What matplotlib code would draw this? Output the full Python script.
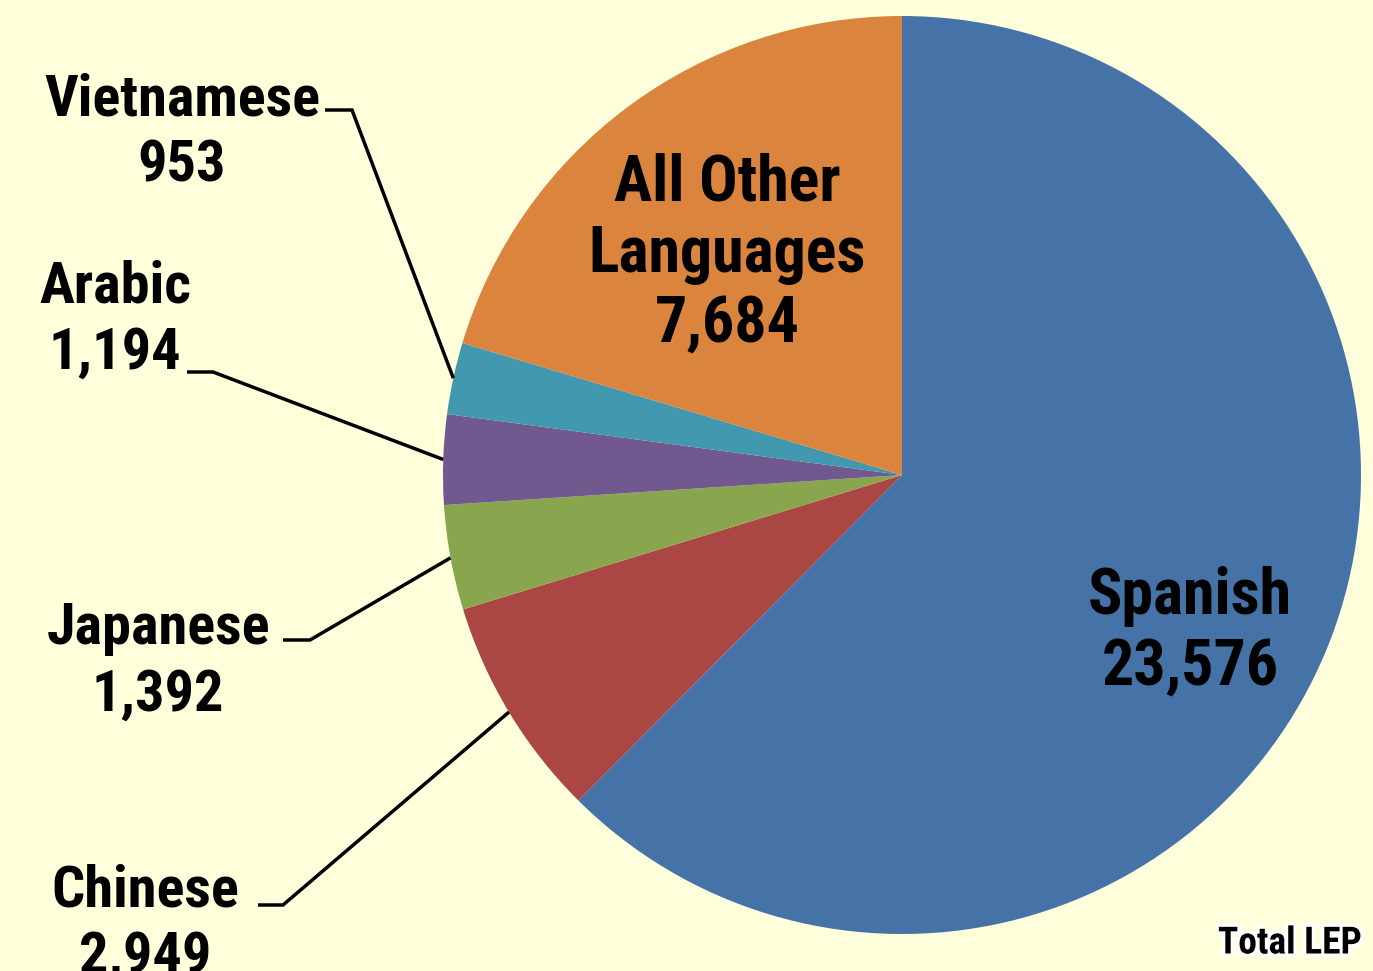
import numpy as np
import matplotlib.pyplot as plt
import matplotlib.patheffects as pe

languages = ['Spanish', 'Chinese', 'Japanese', 'Arabic', 'Vietnamese', 'All Other\nLanguages']
counts = [23576, 2949, 1392, 1194, 953, 7684]
colors = ['#4572A7', '#AA4643', '#89A54E', '#71588F', '#4198AF', '#DB843D']

BG = '#FFFFDC'
W, H = 1373, 971
CX, CY, R = 902, H - 475, 459

plt.rcParams['font.family'] = ['Roboto Condensed', 'DejaVu Sans']

fig = plt.figure(figsize=(W / 100, H / 100), dpi=100, facecolor=BG)
ax = fig.add_axes([0, 0, 1, 1])
ax.axis('off')

ax.pie(counts, colors=colors, startangle=90, counterclock=False,
       center=(CX, CY), radius=R, wedgeprops=dict(linewidth=0))
ax.set_xlim(0, W)
ax.set_ylim(0, H)
ax.set_aspect('equal')

# mid angle of each wedge, clockwise from top
total = sum(counts)
cum = np.cumsum([0] + counts)
mids = [90 - 360 * (cum[i] + cum[i + 1]) / 2 / total for i in range(len(counts))]

text_kw = dict(fontweight='bold', ha='center', va='center',
               multialignment='center', color='black')

# inside labels
ax.text(1190, H - 632, f'{languages[0]}\n{counts[0]:,}', fontsize=46, linespacing=1.22, **text_kw)
ax.text(727, H - 254, f'{languages[5]}\n{counts[5]:,}', fontsize=46, linespacing=1.2, **text_kw)

# outside labels with leader lines: (label centre, elbow start, elbow end)
outside = {
    1: ((145, 924), (258, 905), (283, 905)),
    2: ((158, 662), (283, 640), (310, 640)),
    3: ((115, 320), (187, 372), (213, 372)),
    4: ((182, 133), (325, 110), (352, 110)),
}
for i, ((tx, ty), (x0, y0), (x1, y1)) in outside.items():
    ax.text(tx, H - ty, f'{languages[i]}\n{counts[i]:,}', fontsize=42, linespacing=1.27, **text_kw)
    a = np.deg2rad(mids[i])
    ex, ey = CX + R * np.cos(a), CY + R * np.sin(a)
    ax.plot([x0, x1, ex], [H - y0, H - y1, ey], color='black', lw=2.5,
            solid_capstyle='butt', solid_joinstyle='miter')

ax.text(1362, H - 943, 'Total LEP', fontsize=27, fontweight='bold',
        ha='right', va='center', color='black',
        path_effects=[pe.withStroke(linewidth=5, foreground='white')])

fig.savefig('out.png', dpi=100, facecolor=BG)
